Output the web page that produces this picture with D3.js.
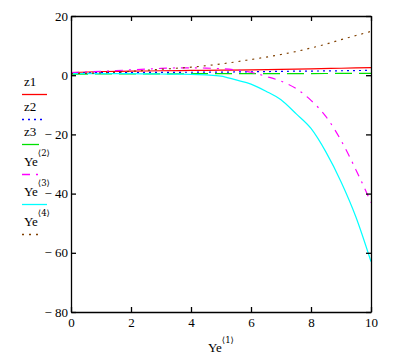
<!DOCTYPE html>
<html><head><meta charset="utf-8">
<script src="https://cdn.jsdelivr.net/npm/d3@7"></script>
<style>
html,body{margin:0;padding:0;background:#fff;}
svg text{font-family:"Liberation Serif","Tinos","DejaVu Serif",serif !important;}
svg text tspan.sup{font-family:"DejaVu Serif","Liberation Serif",serif !important;}
</style></head>
<body>
<svg id="chart" width="393" height="358"></svg>
<script>
// x values (Ye<1>)
const xValues = [0,1,2,3,4,5,6,7,8,9,10];
const xValuesFine = [0,0.5,1,1.5,2,2.5,3,3.5,4,4.5,5,5.5,6,6.5,7,7.5,8,8.5,9,9.5,10];
// series
const z1 = [0.9,1.25,1.35,1.5,1.6,1.7,1.8,2.0,2.15,2.35,2.55];
const z2 = [0.8,0.85,0.9,0.95,1.0,1.05,1.15,1.3,1.4,1.5,1.65];
const z3 = [0.35,0.4,0.4,0.45,0.5,0.5,0.55,0.55,0.55,0.6,0.6];
const ye2 = [0.9,1.1,1.3,1.55,1.8,2.05,2.3,2.45,2.5,2.4,2.2,1.8,1.0,-0.4,-2.0,-4.5,-8.5,-14,-22,-32,-43];
const ye3 = [0.5,0.5,0.5,0.5,0.5,0.45,0.4,0.35,0.3,0.1,-0.3,-1.6,-3.0,-5.4,-8.3,-13,-18,-26,-36,-48,-63];
const ye4 = [0.5,0.65,0.8,1.05,1.3,1.65,2.0,2.35,2.7,3.2,3.8,4.5,5.3,6.1,7.0,8.0,9.2,10.5,12.0,13.4,14.8];
// ticks
const xTicks = [0,2,4,6,8,10];
const yTicks = [20,0,-20,-40,-60,-80];
const legendLabels = [["z1",""],["z2",""],["z3",""],["Ye","2"],["Ye","3"],["Ye","4"]];

const svg = d3.select("#chart");
const L=71, R=371, T=16, B=312;
const x = d3.scaleLinear().domain([0,10]).range([L,R]);
const y = d3.scaleLinear().domain([-80,20]).range([B,T]);

const series = [
  {xs:xValues, ys:z1, color:"#ff0000", dash:null, len:25},
  {xs:xValues, ys:z2, color:"#0000ff", dash:"2,4", len:20},
  {xs:xValues, ys:z3, color:"#00e000", dash:"17,7", len:17},
  {xs:xValuesFine, ys:ye2, color:"#ff00ff", dash:"8,6,2,6", len:18},
  {xs:xValuesFine, ys:ye3, color:"#00ffff", dash:null, len:25},
  {xs:xValuesFine, ys:ye4, color:"#804000", dash:"2,5", len:20}
];

const plot = svg.append("g");
plot.append("defs").append("clipPath").attr("id","clip")
  .append("rect").attr("x",L).attr("y",T).attr("width",R-L).attr("height",B-T);
const line = d3.line().x(d=>x(d[0])).y(d=>y(d[1])).curve(d3.curveMonotoneX);
series.forEach(s=>{
  plot.append("path")
    .attr("d", line(s.xs.map((v,i)=>[v,s.ys[i]])))
    .attr("fill","none").attr("stroke",s.color).attr("stroke-width",1.2)
    .attr("stroke-dasharray",s.dash).attr("clip-path","url(#clip)");
});

const fmt = d => d<0 ? "\u2212 " + (-d) : String(d);
const tickStyle = g => {
  g.attr("font-family",null).attr("font-size",null);
  g.select(".domain").attr("stroke","#000").attr("stroke-width",1.3);
  g.selectAll(".tick line").attr("stroke","#000").attr("stroke-width",1.3);
  g.selectAll("text").attr("fill","#000").style("font-size","13px");
};
svg.append("g").attr("transform",`translate(0,${B})`)
  .call(d3.axisBottom(x).tickValues(xTicks).tickSize(-5).tickPadding(6).tickSizeOuter(0))
  .call(tickStyle).call(g=>g.selectAll("text").attr("dy","0.71em"));
svg.append("g").attr("transform",`translate(0,${T})`)
  .call(d3.axisTop(x).tickValues(xTicks).tickSize(-5).tickFormat("").tickSizeOuter(0)).call(tickStyle);
svg.append("g").attr("transform",`translate(${L},0)`)
  .call(d3.axisLeft(y).tickValues(yTicks).tickSize(-5).tickPadding(3).tickFormat(fmt).tickSizeOuter(0)).call(tickStyle);
svg.append("g").attr("transform",`translate(${R},0)`)
  .call(d3.axisRight(y).tickValues(yTicks).tickSize(-5).tickFormat("").tickSizeOuter(0)).call(tickStyle);

// x axis title
const xt = svg.append("text").attr("x",208).attr("y",352)
  .style("font-size","13px").attr("fill","#000");
xt.append("tspan").text("Ye");
xt.append("tspan").attr("class","sup").attr("dy",-9).style("font-size","8.5px").text("\u27E81\u27E9");

// legend
const lineYs = [94,119,144,174,204,234];
legendLabels.forEach((lab,i)=>{
  const s = series[i];
  const ly = lineYs[i];
  const t = svg.append("text").attr("x",24).attr("y",ly-8).style("font-size","13px").attr("fill","#000");
  t.append("tspan").text(lab[0]);
  if(lab[1]){
    t.append("tspan").attr("class","sup").attr("dy",-10).style("font-size","8.5px")
      .text("\u27E8"+lab[1]+"\u27E9");
  }
  svg.append("line").attr("x1",22).attr("x2",22+s.len).attr("y1",ly+0.5).attr("y2",ly+0.5)
    .attr("stroke",s.color).attr("stroke-width",1.3).attr("stroke-dasharray",s.dash);
});
</script>
</body></html>
